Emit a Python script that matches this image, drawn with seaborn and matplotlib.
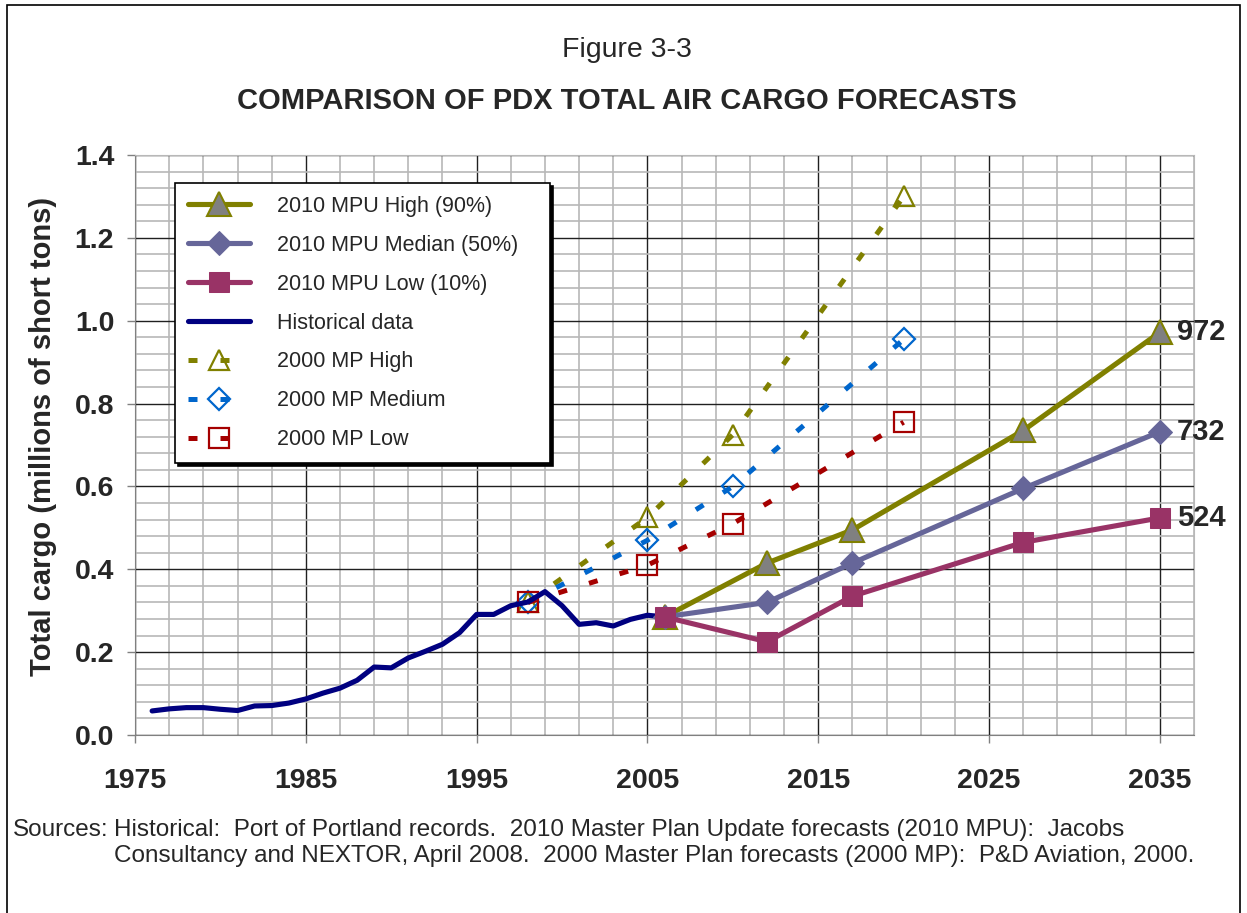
import matplotlib.pyplot as plt
import matplotlib.ticker as mticker
import numpy as np
import pandas as pd
import seaborn as sns
from matplotlib.patches import Rectangle

# Historical data (millions of short tons)
hist_years = list(range(1976, 2007))
hist_values = [0.058, 0.063, 0.066, 0.066, 0.062, 0.059, 0.070, 0.071, 0.077, 0.087,
               0.101, 0.113, 0.132, 0.164, 0.162, 0.186, 0.202, 0.219, 0.247, 0.291,
               0.291, 0.312, 0.321, 0.346, 0.312, 0.267, 0.271, 0.263, 0.279, 0.289, 0.285]

# 2010 Master Plan Update forecasts
mpu_years = [2006, 2012, 2017, 2027, 2035]
mpu_high = [0.285, 0.415, 0.495, 0.735, 0.972]
mpu_median = [0.285, 0.320, 0.415, 0.595, 0.732]
mpu_low = [0.285, 0.225, 0.335, 0.465, 0.524]

# 2000 Master Plan forecasts
mp_years = [1998, 2005, 2010, 2020]
mp_high = [0.320, 0.525, 0.725, 1.300]
mp_medium = [0.320, 0.470, 0.600, 0.955]
mp_low = [0.320, 0.410, 0.510, 0.755]

end_labels = ['972', '732', '524']

sns.set_style('white')
plt.rcParams['font.family'] = ['Liberation Sans', 'DejaVu Sans']

fig = plt.figure(figsize=(12.47, 9.13), dpi=100)
ax = fig.add_axes([0.1083, 0.1950, 0.8492, 0.6352])

olive = '#808000'
slate = '#666699'
plum = '#993366'
navy = '#000080'
blue = '#0066CC'
darkred = '#A50000'
dots = (0, (1.8, 4.6))

sns.lineplot(x=mpu_years, y=mpu_high, ax=ax, color=olive, lw=3.7, marker='^', markersize=17,
             markerfacecolor='#808080', markeredgecolor=olive, markeredgewidth=1.5,
             label='2010 MPU High (90%)', zorder=5)
sns.lineplot(x=mpu_years, y=mpu_median, ax=ax, color=slate, lw=3.7, marker='D', markersize=12,
             markerfacecolor=slate, markeredgecolor=slate, label='2010 MPU Median (50%)', zorder=5)
sns.lineplot(x=mpu_years, y=mpu_low, ax=ax, color=plum, lw=3.7, marker='s', markersize=15,
             markerfacecolor=plum, markeredgecolor=plum, label='2010 MPU Low (10%)', zorder=6)
sns.lineplot(x=hist_years, y=hist_values, ax=ax, color=navy, lw=3.7, label='Historical data', zorder=4)

for vals, col, mk, ms, name in [(mp_high, olive, '^', 15, '2000 MP High'),
                                (mp_medium, blue, 'D', 11, '2000 MP Medium'),
                                (mp_low, darkred, 's', 14, '2000 MP Low')]:
    line = sns.lineplot(x=mp_years, y=vals, ax=ax, color=col, lw=3.6, marker=mk, markersize=ms,
                        markerfacecolor='none', markeredgecolor=col, markeredgewidth=1.6,
                        label=name, zorder=3).lines[-1]
    line.set_linestyle(dots)
    line.set_dash_capstyle('butt')

for v, t in zip([mpu_high[-1], mpu_median[-1], mpu_low[-1]], end_labels):
    ax.text(2036.0, v, t, fontsize=21, fontweight='bold', va='center', ha='left', clip_on=False)

ax.set_xlim(1975, 2037)
ax.set_ylim(0, 1.4)
ax.xaxis.set_major_locator(mticker.FixedLocator(np.arange(1975, 2036, 10)))
ax.xaxis.set_minor_locator(mticker.FixedLocator(np.arange(1975, 2038, 2)))
ax.yaxis.set_major_locator(mticker.MultipleLocator(0.2))
ax.yaxis.set_minor_locator(mticker.MultipleLocator(0.04))
ax.yaxis.set_major_formatter(mticker.FormatStrFormatter('%.1f'))
ax.grid(which='minor', color='#b8b8b8', lw=1.2)
ax.grid(which='major', color='#202020', lw=1.0)
ax.set_axisbelow(True)

ax.tick_params(axis='both', which='major', labelsize=20.5, length=6, width=1, color='#808080',
               direction='out', left=True, bottom=True)
ax.tick_params(axis='y', pad=9)
ax.tick_params(axis='x', pad=18)
ax.tick_params(which='minor', length=0)
for lab in ax.get_xticklabels() + ax.get_yticklabels():
    lab.set_fontweight('bold')
for s in ['left', 'bottom']:
    ax.spines[s].set_color('#808080')
for s in ['top', 'right']:
    ax.spines[s].set_color('#b8b8b8')

ax.set_xlabel('')
ax.set_ylabel('Total cargo (millions of short tons)', fontsize=21, fontweight='bold')
ax.yaxis.set_label_coords(-0.074, 0.515)

leg = ax.legend(loc='upper left', bbox_to_anchor=(0.0378, 0.9517, 0.354, 0), mode='expand',
                borderaxespad=0, fontsize=15.5, frameon=True, fancybox=False, framealpha=1,
                edgecolor='black', handlelength=2.9, labelspacing=0.83, borderpad=0.6,
                handletextpad=1.25, shadow={'color': 'black', 'alpha': 1})
leg.get_frame().set_linewidth(1.2)

fig.text(0.503, 1 - 50 / 913, 'Figure 3-3', fontsize=20.5, ha='center', va='center')
fig.text(0.503, 1 - 101 / 913, 'COMPARISON OF PDX TOTAL AIR CARGO FORECASTS', fontsize=21,
         fontweight='bold', ha='center', va='center')
fig.text(109 / 1247, 1 - 830 / 913, 'Sources:', fontsize=17.5, ha='right', va='center')
fig.text(114 / 1247, 1 - 830 / 913,
         'Historical:  Port of Portland records.  2010 Master Plan Update forecasts (2010 MPU):  Jacobs',
         fontsize=17.5, ha='left', va='center')
fig.text(114 / 1247, 1 - 856 / 913,
         'Consultancy and NEXTOR, April 2008.  2000 Master Plan forecasts (2000 MP):  P&D Aviation, 2000.',
         fontsize=17.5, ha='left', va='center')

fig.patches.append(Rectangle((0.006, -0.02), 0.988, 1.014, transform=fig.transFigure,
                             fill=False, edgecolor='black', lw=1.2))

fig.savefig('out.png', dpi=100)
